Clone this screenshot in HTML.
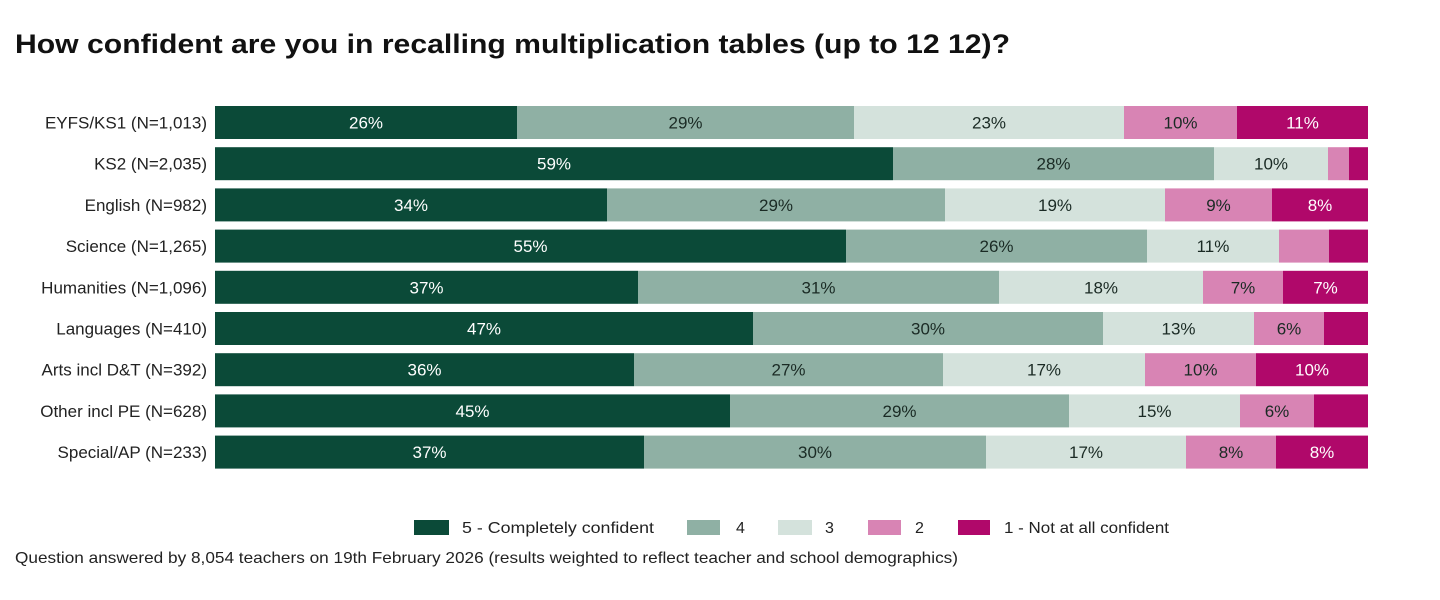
<!DOCTYPE html>
<html><head><meta charset="utf-8"><style>
html,body{margin:0;padding:0;background:#fff;}
svg{display:block;font-family:"Liberation Sans",sans-serif;}
</style></head><body>
<svg width="1440" height="600" viewBox="0 0 1440 600">
<text x="15" y="53" font-size="27" font-weight="bold" fill="#111" textLength="995" lengthAdjust="spacingAndGlyphs">How confident are you in recalling multiplication tables (up to 12 12)?</text>
<g id="bars"></g>
<g font-size="16" fill="#222">
<rect x="414" y="520" width="35" height="15" fill="#0b4a38"/><text x="462" y="533" textLength="192" lengthAdjust="spacingAndGlyphs">5 - Completely confident</text>
<rect x="687" y="520" width="33" height="15" fill="#8fb0a4"/><text x="736" y="533">4</text>
<rect x="778" y="520" width="34" height="15" fill="#d4e2dc"/><text x="825" y="533">3</text>
<rect x="868" y="520" width="33" height="15" fill="#d884b4"/><text x="915" y="533">2</text>
<rect x="958" y="520" width="32" height="15" fill="#b0086a"/><text x="1004" y="533" textLength="165" lengthAdjust="spacingAndGlyphs">1 - Not at all confident</text>
<text x="15" y="563" textLength="943" lengthAdjust="spacingAndGlyphs">Question answered by 8,054 teachers on 19th February 2026 (results weighted to reflect teacher and school demographics)</text>
</g>
</svg>
<script>
var rows=[
["EYFS/KS1 (N=1,013)",[517,854,1124,1237],["26%","29%","23%","10%","11%"]],
["KS2 (N=2,035)",[893,1214,1328,1349],["59%","28%","10%","",""]],
["English (N=982)",[607,945,1165,1272],["34%","29%","19%","9%","8%"]],
["Science (N=1,265)",[846,1147,1279,1329],["55%","26%","11%","",""]],
["Humanities (N=1,096)",[638,999,1203,1283],["37%","31%","18%","7%","7%"]],
["Languages (N=410)",[753,1103,1254,1324],["47%","30%","13%","6%",""]],
["Arts incl D&T (N=392)",[634,943,1145,1256],["36%","27%","17%","10%","10%"]],
["Other incl PE (N=628)",[730,1069,1240,1314],["45%","29%","15%","6%",""]],
["Special/AP (N=233)",[644,986,1186,1276],["37%","30%","17%","8%","8%"]]];
var cols=["#0b4a38","#8fb0a4","#d4e2dc","#d884b4","#b0086a"],tc=["#fff","#1a2a24","#1a2a24","#1a2a24","#fff"];
var ns="http://www.w3.org/2000/svg",g=document.getElementById("bars");
function el(n,a,t){var e=document.createElementNS(ns,n);for(var k in a)e.setAttribute(k,a[k]);if(t)e.textContent=t;g.appendChild(e);return e;}
rows.forEach(function(r,i){
 var y=106+i*41.2,h=33;
 el("text",{x:207,y:y+h/2+6,"font-size":17,fill:"#222","text-anchor":"end"},r[0]);
 var xs=[215].concat(r[1]).concat([1368]);
 for(var j=0;j<5;j++){
  el("rect",{x:xs[j],y:y,width:xs[j+1]-xs[j],height:h,fill:cols[j]});
  if(r[2][j])el("text",{x:(xs[j]+xs[j+1])/2,y:y+h/2+6,"font-size":17,fill:tc[j],"text-anchor":"middle"},r[2][j]);
 }
});
</script>
</body></html>
